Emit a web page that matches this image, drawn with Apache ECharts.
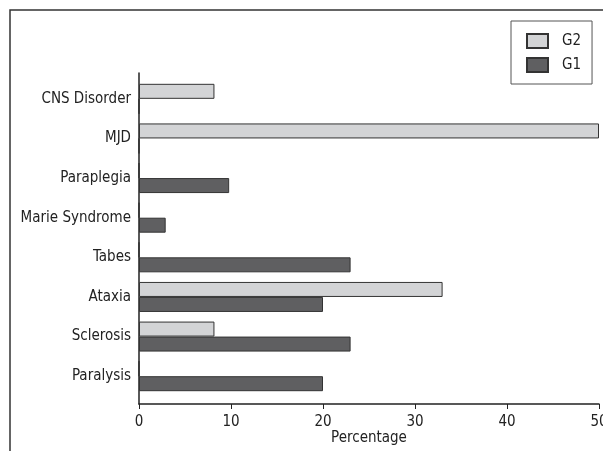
<!DOCTYPE html>
<html>
<head>
<meta charset="utf-8">
<script src="https://cdn.jsdelivr.net/npm/echarts@6/dist/echarts.min.js"></script>
<style>
html,body{margin:0;padding:0;background:#fff;overflow:hidden;}
#c{width:603px;height:451px;}
</style>
</head>
<body>
<div id="c"></div>
<script>
const categories = ['CNS Disorder', 'MJD', 'Paraplegia', 'Marie Syndrome', 'Tabes', 'Ataxia', 'Sclerosis', 'Paralysis'];
const g2Values = [8.2, 50, 0, 0, 0, 33, 8.2, 0];
const g1Values = [0, 0, 9.8, 2.9, 23, 20, 23, 20];
const xTicks = [0, 10, 20, 30, 40, 50];

const FONT = '"Liberation Sans Narrow", "DejaVu Sans Condensed", sans-serif';
const chart = echarts.init(document.getElementById('c'), null, {renderer: 'canvas'});
chart.setOption({
  animation: false,
  backgroundColor: '#fff',
  graphic: [{
    type: 'rect', x: 0, y: 0, shape: {x: 10, y: 10, width: 620, height: 460},
    style: {fill: 'none', stroke: '#333', lineWidth: 1.5}, silent: true
  }],
  legend: {
    data: ['G2', 'G1'],
    orient: 'vertical',
    left: 511, top: 21,
    padding: [12, 11, 11, 15],
    icon: 'rect',
    itemWidth: 21, itemHeight: 14, itemGap: 8,
    borderColor: '#555', borderWidth: 1,
    textStyle: {fontFamily: FONT, fontSize: 15, color: '#222', padding: [0, 0, 0, 9]}
  },
  grid: [
    {left: 139, width: 460, top: 79, height: 317, outerBoundsMode: 'none', containLabel: false},
    {left: 139, width: 460, top: 73, height: 331, outerBoundsMode: 'none', containLabel: false}
  ],
  xAxis: [
    {gridIndex: 0, type: 'value', min: 0, max: 50, interval: 10, show: false},
    {gridIndex: 1, type: 'value', min: xTicks[0], max: xTicks[xTicks.length - 1], interval: 10,
     axisLine: {show: true, lineStyle: {color: '#222', width: 1.5}},
     axisTick: {show: true, length: 5, lineStyle: {color: '#222'}},
     splitLine: {show: false},
     axisLabel: {fontFamily: FONT, fontSize: 15, color: '#222', margin: 11},
     name: 'Percentage', nameLocation: 'middle', nameGap: 27, nameMoveOverlap: false,
     nameTextStyle: {fontFamily: FONT, fontSize: 15, color: '#222'}}
  ],
  yAxis: [
    {gridIndex: 0, type: 'category', data: categories, inverse: true,
     axisLine: {show: false}, axisTick: {show: false},
     axisLabel: {fontFamily: FONT, fontSize: 15, color: '#222', margin: 8}},
    {gridIndex: 1, type: 'value', min: 0, max: 1,
     axisLine: {show: true, lineStyle: {color: '#222', width: 1.5}},
     axisTick: {show: false}, axisLabel: {show: false}, splitLine: {show: false}}
  ],
  series: [
    {name: 'G2', type: 'bar', xAxisIndex: 0, yAxisIndex: 0, data: g2Values,
     barWidth: 15, barGap: '0%',
     itemStyle: {color: '#d3d4d6', borderColor: '#333', borderWidth: 1}},
    {name: 'G1', type: 'bar', xAxisIndex: 0, yAxisIndex: 0, data: g1Values,
     barWidth: 15, barGap: '0%',
     itemStyle: {color: '#5f5f61', borderColor: '#333', borderWidth: 1}}
  ]
});
</script>
</body>
</html>
